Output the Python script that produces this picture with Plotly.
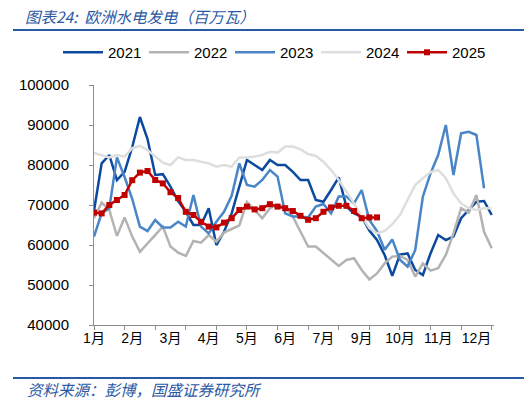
import plotly.graph_objects as go

# weekly hydro generation, Europe (MW), week index 0..52
weeks = list(range(53))

y2021 = [68500, 80400, 82500, 76250, 78300, 84500, 92000, 86500, 77500, 77700,
         74600, 71000, 68300, 65000, 65000, 69200, 60000, 63300, 67900, 74500,
         81250, 80000, 78750, 81250, 80000, 80000, 78300, 76250, 76250, 71250,
         70800, 73750, 76900, 69600, 67900, 67100, 63600, 61250, 57500, 52300,
         57600, 57900, 53750, 52500, 57900, 62500, 61250, 62100, 66700, 68750,
         70800, 71000, 67500]
y2022 = [66700, 70600, 68750, 62250, 66900, 62100, 58300, 60400, 62500, 64600,
         59600, 58100, 57250, 61000, 60600, 62500, 60800, 63100, 64000, 64900,
         70800, 68750, 66700, 69200, 70000, 69600, 67100, 63300, 59600, 59600,
         57900, 56250, 54750, 56250, 56700, 53750, 51400, 52900, 55400, 57100,
         57250, 56250, 52100, 55400, 53600, 54200, 57500, 62900, 69200, 68100,
         72500, 63300, 59200]
y2023 = [62100, 67900, 69200, 81900, 77000, 71500, 64600, 63500, 66250, 64400,
         64400, 65800, 64600, 72500, 64600, 62900, 65800, 68300, 72300, 80400,
         75000, 74600, 76250, 78750, 77100, 67900, 67100, 67100, 66900, 69600,
         70250, 67900, 72100, 72100, 70400, 73750, 66250, 63500, 58800, 61400,
         56300, 54600, 58750, 72100, 77900, 82500, 90000, 77500, 87900, 88300,
         87500, 74200]
y2024 = [83000, 82500, 81900, 82500, 82100, 84200, 84800, 83750, 82100, 80600,
         80000, 81900, 81250, 81250, 80800, 80400, 79600, 80000, 79600, 81900,
         81900, 82100, 82500, 83300, 83100, 84600, 84600, 83900, 82750, 82250,
         80800, 78750, 76250, 73300, 70400, 67100, 64200, 62900, 63500, 65200,
         67500, 71250, 75000, 76700, 78200, 78750, 76700, 72900, 70400, 69200,
         68750, 69200, 69200]
y2025 = [68100, 67900, 70000, 71250, 72500, 76200, 78100, 78500, 76250, 75400,
         73200, 71750, 68300, 67500, 65800, 64600, 64400, 65600, 66700, 68750,
         69600, 68900, 69200, 70200, 69600, 69200, 68500, 67300, 66300, 66700,
         68300, 69400, 69800, 69800, 68500, 66700, 66900, 66900]

label_pos = [0, 5, 10, 15, 20, 25, 30, 35, 40, 45, 50]
label_text = ["1月", "2月", "3月", "4月", "5月", "6月", "7月", "9月", "10月", "11月", "12月"]
tick_pos = [0, 4, 8, 12, 16, 20, 24, 28, 32, 36, 40, 44, 48, 52]

series = [
    ("2021", y2021, "#0b4a9e"),
    ("2022", y2022, "#b3b3b3"),
    ("2023", y2023, "#4a85c6"),
    ("2024", y2024, "#dedede"),
]

fig = go.Figure()
for name, vals, color in series:
    fig.add_trace(go.Scatter(x=weeks[:len(vals)], y=vals, name=name, mode="lines",
                             line=dict(color=color, width=2.5)))
fig.add_trace(go.Scatter(x=weeks[:len(y2025)], y=y2025, name="2025", mode="lines+markers",
                         line=dict(color="#c00000", width=2.5),
                         marker=dict(symbol="square", size=6, color="#c00000")))
# dummy trace so the tick-mark axis gets drawn
fig.add_trace(go.Scatter(x=[0], y=[40000], xaxis="x2", mode="markers",
                         marker=dict(opacity=0), showlegend=False, hoverinfo="skip"))

blue = "#2b58a3"
font_fam = "Liberation Sans, Arial, Noto Sans CJK SC"

# the page pushes the figure down ~8px, so it is a bit shorter than the window
fig.update_layout(
    width=532, height=395,
    margin=dict(l=86, r=46, t=77, b=78, autoexpand=False),
    plot_bgcolor="white", paper_bgcolor="white",
    font=dict(family=font_fam, size=15, color="#000000"),
    showlegend=True,
    legend=dict(orientation="h", x=-0.09, xanchor="left", y=1.204, yanchor="top",
                entrywidth=31, entrywidthmode="pixels", itemwidth=40,
                font=dict(size=15), bgcolor="rgba(0,0,0,0)"),
    xaxis=dict(range=[0, 52.3], tickmode="array", tickvals=label_pos, ticktext=label_text,
               ticks="", showline=True, linecolor="#8c8c8c", linewidth=1,
               showgrid=False, zeroline=False, tickfont=dict(size=14),
               ticklabelstandoff=0),
    xaxis2=dict(range=[0, 52.3], overlaying="x", anchor="y", side="bottom",
                tickmode="array", tickvals=tick_pos, ticks="outside", ticklen=4,
                tickcolor="#8c8c8c", showticklabels=False, showline=False,
                showgrid=False, zeroline=False),
    yaxis=dict(range=[40000, 100000], dtick=10000, ticks="outside", ticklen=4,
               tickcolor="#8c8c8c", showline=True, linecolor="#8c8c8c", linewidth=1,
               showgrid=False, zeroline=False, tickformat="d",
               ticklabelstandoff=17, tickfont=dict(size=15)),
    title=dict(text="<i>图表24:  欧洲水电发电（百万瓦）</i>", x=0.032, xanchor="left",
               y=0.977, yanchor="middle", yref="container",
               font=dict(family="Noto Sans CJK SC", size=15.5, color=blue)),
)

fig.add_annotation(text="<i>资料来源：彭博，国盛证券研究所</i>", xref="paper", yref="paper",
                   x=-0.1725, y=-0.267, xanchor="left", yanchor="middle", showarrow=False,
                   font=dict(family="Noto Sans CJK SC", size=15.5, color=blue))

fig.add_shape(type="line", xref="paper", yref="paper", x0=-0.2025, x1=1.11,
              y0=1.229, y1=1.229, line=dict(color=blue, width=2))
fig.add_shape(type="line", xref="paper", yref="paper", x0=-0.2025, x1=1.11,
              y0=-0.221, y1=-0.221, line=dict(color=blue, width=2))

fig.write_html("out.html")
